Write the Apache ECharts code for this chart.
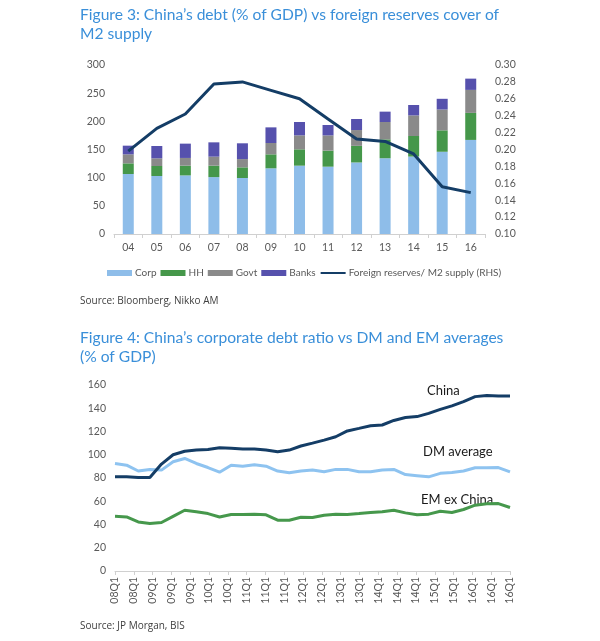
<!DOCTYPE html>
<html>
<head>
<meta charset="utf-8">
<script src="https://cdn.jsdelivr.net/npm/echarts@6/dist/echarts.min.js"></script>
<style>
html,body{margin:0;padding:0;background:#fff;}
#c{width:600px;height:641px;}
</style>
</head>
<body>
<div id="c"></div>
<script>
// ---------- Figure 3 data ----------
const years = ['04','05','06','07','08','09','10','11','12','13','14','15','16'];
const corp  = [106.5,103,104,101,99.4,116.6,121.3,119.5,127,134.5,137.5,146,167];
const hh    = [18.9,17.7,17.3,20.3,18.9,24.8,29,28.5,29.5,33.5,36.5,38,48];
const govt  = [16,13.6,13.7,16,14.7,20.1,24.8,27,28,30.8,36.5,37,40.8];
const banks = [15.4,21.9,25.4,25.4,28,27.8,23.7,18.5,19.6,18.4,18.5,19,20];
const fxM2  = [0.198,0.225,0.242,0.2775,0.280,0.270,0.260,0.236,0.2125,0.2095,0.1947,0.156,0.149];

// ---------- Figure 4 data ----------
const qLabels = ['08Q1','08Q1','09Q1','09Q1','09Q1','10Q1','10Q1','11Q1','11Q1','11Q1','12Q1',
                 '12Q1','13Q1','13Q1','14Q1','14Q1','14Q1','15Q1','15Q1','16Q1','16Q1','16Q1'];
const china = [81,81,80.5,80.5,92,100,103,104,104.5,106,105.5,105,105,104,102.5,104,107.5,110,
               112.6,115.5,120.5,122.7,125,125.6,129.5,132,132.8,135.6,139,142,145.7,150,151,150.6,150.5];
const dm    = [92.5,91,86,87.4,86.8,94,96.8,92.5,89,85,91,90.2,91.4,90.2,86,84.5,86,86.8,
               85.3,87.4,87.4,85.3,85.3,86.8,87.4,83,82,81,84,84.8,86,88.8,88.8,89,85.3];
const em    = [47,46.5,42.2,40.8,41.7,47,52.3,50.9,49.4,46.5,48.6,48.6,48.9,48.3,43.7,43.7,46.3,46,
               48,48.9,48.6,49.4,50.3,50.9,52.3,50,48.3,48.9,51.4,50.3,52.9,56.6,57.8,58,54.6];

const axisFont = {fontFamily:'Lato', fontSize:10.5, color:'#595959'};
const titleStyle = {fontFamily:'Lato', fontSize:15.6, color:'#3a8fd9', fontWeight:'normal', lineHeight:19};
const srcStyle = {fontFamily:'Open Sans', fontSize:10, color:'#404040', fontWeight:'normal'};

const C = {corp:'#8ebde9', hh:'#45974a', govt:'#8a8a8a', banks:'#5651ad', fx:'#143d66',
           china:'#143d66', dm:'#8ec3f0', em:'#46984c'};

const chart = echarts.init(document.getElementById('c'), null, {renderer:'canvas'});
const idx = arr => arr.map((v,i)=>[i,v]);

chart.setOption({
  backgroundColor:'#fff',
  animation:false,
  title:[
    {text:"Figure 3: China’s debt (% of GDP) vs foreign reserves cover of\nM2 supply", left:80, top:5, padding:0, textStyle:titleStyle},
    {text:"Source: Bloomberg, Nikko AM", left:80, top:296, padding:0, textStyle:srcStyle},
    {text:"Figure 4: China’s corporate debt ratio vs DM and EM averages\n(% of GDP)", left:80, top:328, padding:0, textStyle:titleStyle},
    {text:"Source: JP Morgan, BIS", left:80, top:621, padding:0, textStyle:srcStyle}
  ],
  legend:{
    top:268, left:107, padding:0, itemWidth:25, itemHeight:6, itemGap:4,
    textStyle:{fontFamily:'Lato', fontSize:10, color:'#595959', padding:[0,0,0,-2]},
    data:[
      {name:'Corp', icon:'rect'},{name:'HH', icon:'rect'},{name:'Govt', icon:'rect'},{name:'Banks', icon:'rect'},
      {name:'Foreign reserves/ M2 supply (RHS)', itemStyle:{opacity:0}}
    ]
  },
  grid:[
    {left:114, right:115, top:65, bottom:407},
    {left:115, right:90, top:385, bottom:70}
  ],
  xAxis:[
    {gridIndex:0, type:'category', data:years,
     axisLine:{lineStyle:{color:'#d0d0d0'}}, axisTick:{show:true, length:4, lineStyle:{color:'#d0d0d0'}},
     axisLabel:Object.assign({margin:8}, axisFont)},
    {gridIndex:1, type:'category', data:qLabels, boundaryGap:false,
     axisLine:{lineStyle:{color:'#d0d0d0'}}, axisTick:{show:true, length:4, interval:0, lineStyle:{color:'#d0d0d0'}},
     axisLabel:Object.assign({rotate:90, interval:0, margin:6}, axisFont)},
    {gridIndex:1, type:'value', min:0, max:china.length-1, show:false}
  ],
  yAxis:[
    {gridIndex:0, type:'value', min:0, max:300, interval:50, splitLine:{show:false},
     axisLine:{show:false}, axisTick:{show:false}, axisLabel:Object.assign({margin:9}, axisFont)},
    {gridIndex:0, type:'value', min:0.10, max:0.30, interval:0.02, position:'right', splitLine:{show:false},
     axisLine:{show:false}, axisTick:{show:false},
     axisLabel:Object.assign({margin:10, formatter:v=>v.toFixed(2)}, axisFont)},
    {gridIndex:1, type:'value', min:0, max:160, interval:20, splitLine:{show:false},
     axisLine:{show:false}, axisTick:{show:false}, axisLabel:Object.assign({margin:9}, axisFont)}
  ],
  series:[
    {name:'Corp', type:'bar', stack:'d', data:corp, xAxisIndex:0, yAxisIndex:0, barWidth:11, itemStyle:{color:C.corp}},
    {name:'HH', type:'bar', stack:'d', data:hh, xAxisIndex:0, yAxisIndex:0, itemStyle:{color:C.hh}},
    {name:'Govt', type:'bar', stack:'d', data:govt, xAxisIndex:0, yAxisIndex:0, itemStyle:{color:C.govt}},
    {name:'Banks', type:'bar', stack:'d', data:banks, xAxisIndex:0, yAxisIndex:0, itemStyle:{color:C.banks}},
    {name:'Foreign reserves/ M2 supply (RHS)', type:'line', data:fxM2, xAxisIndex:0, yAxisIndex:1,
     symbol:'none', lineStyle:{color:C.fx, width:3}, itemStyle:{color:C.fx}, z:5},
    {name:'DM average', type:'line', data:idx(dm), xAxisIndex:2, yAxisIndex:2, symbol:'none',
     lineStyle:{color:C.dm, width:3}},
    {name:'EM ex China', type:'line', data:idx(em), xAxisIndex:2, yAxisIndex:2, symbol:'none',
     lineStyle:{color:C.em, width:3}},
    {name:'China', type:'line', data:idx(china), xAxisIndex:2, yAxisIndex:2, symbol:'none',
     lineStyle:{color:C.china, width:3}}
  ],
  graphic:[
    {type:'text', left:427, top:384, style:{text:'China', font:'13px Lato', fill:'#1a1a1a'}},
    {type:'text', left:423, top:445, style:{text:'DM average', font:'13px Lato', fill:'#1a1a1a'}},
    {type:'text', left:421, top:493, style:{text:'EM ex China', font:'13px Lato', fill:'#1a1a1a'}}
  ]
});
</script>
</body>
</html>
